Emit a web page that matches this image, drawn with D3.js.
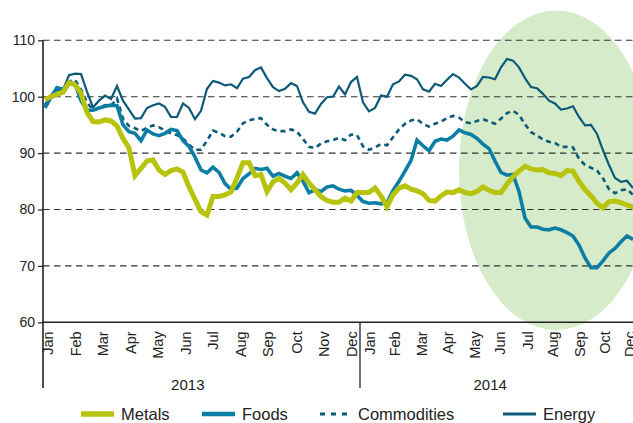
<!DOCTYPE html>
<html>
<head>
<meta charset="utf-8">
<script src="https://cdn.jsdelivr.net/npm/d3@7"></script>
<style>
  html, body { margin: 0; padding: 0; background: #fff; }
  svg { display: block; font-family: "Liberation Sans", Arial, sans-serif; }
</style>
</head>
<body>
<svg id="chart" width="633" height="423"></svg>
<script>
// ---- Data (weekly index values, Jan 2013 = 100) ----
const metals = [99.5,100.0,100.4,100.8,102.5,102.1,100.6,97.2,95.6,95.5,95.9,95.7,94.8,92.6,90.9,86.0,87.3,88.6,88.8,87.0,86.2,86.9,87.2,86.6,84.0,81.8,79.6,79.0,82.3,82.3,82.6,83.1,85.6,88.3,88.3,86.0,86.2,83.2,84.9,85.5,84.7,83.5,84.7,86.2,84.7,83.5,82.3,81.6,81.3,81.3,82.0,81.5,83.0,83.0,83.0,83.8,82.4,80.5,82.6,83.8,84.2,83.6,83.3,82.8,81.6,81.5,82.4,83.1,83.0,83.5,83.0,82.8,83.2,84.0,83.4,83.0,83.0,84.5,85.8,86.8,87.7,87.2,87.0,87.1,86.5,86.4,86.0,86.9,86.8,85.0,83.5,82.4,81.1,80.3,81.4,81.5,81.2,80.8,80.4];
const foods = [98.0,99.9,101.6,101.3,102.5,102.3,99.3,97.6,97.6,98.0,98.3,98.5,98.4,95.0,93.8,93.5,92.2,94.1,93.4,93.1,93.5,94.2,94.0,92.2,91.2,89.3,87.0,86.5,87.5,86.6,84.6,83.6,83.8,85.5,86.3,87.3,87.1,87.3,85.9,86.4,85.9,85.5,86.5,85.0,83.0,83.5,83.2,84.0,84.2,83.6,83.3,83.4,82.5,81.4,81.1,81.2,81.0,81.2,83.4,85.0,86.8,88.7,92.3,91.3,90.4,92.1,92.5,92.3,93.0,94.1,93.6,93.3,92.6,91.6,90.8,88.6,86.6,86.1,86.2,83.2,78.5,76.9,76.9,76.5,76.4,76.7,76.4,75.9,75.3,73.7,71.4,69.7,69.7,70.9,72.3,73.1,74.3,75.3,74.7];
const commodities = [98.5,100.2,101.5,101.1,102.7,103.0,101.3,99.0,97.6,98.0,98.5,98.4,99.7,96.1,94.8,94.4,93.9,94.5,94.9,94.6,94.0,93.5,93.2,92.6,91.5,90.6,90.6,92.2,94.0,93.6,93.0,92.9,93.8,95.3,95.8,96.1,96.2,95.0,94.2,93.9,93.9,94.2,93.8,92.5,91.1,90.9,91.7,92.1,92.3,92.7,92.3,93.3,93.2,91.2,90.6,91.0,91.6,91.4,92.8,94.2,95.2,95.8,96.0,95.2,94.7,95.2,95.6,96.2,96.6,96.3,95.5,95.3,95.7,96.0,95.6,95.2,96.1,97.1,97.5,96.8,95.1,93.7,93.1,92.4,92.0,91.8,91.1,91.1,91.0,89.0,87.9,87.4,86.9,85.5,83.6,82.9,83.4,83.6,82.6];
const energy = [98.6,100.0,101.2,101.2,103.8,104.1,104.0,100.9,98.1,99.3,100.2,99.6,101.9,99.3,97.7,96.1,96.2,98.0,98.5,98.8,98.2,96.4,96.4,98.8,98.0,96.0,97.5,101.4,102.8,102.5,102.0,102.2,101.5,103.2,103.5,104.7,105.2,103.3,101.7,101.0,101.4,102.4,101.9,99.0,97.3,97.0,98.7,99.9,100.0,101.8,100.4,102.6,103.5,99.0,97.4,98.0,100.2,100.0,102.2,102.7,103.9,103.7,103.1,101.3,100.9,102.3,101.9,103.0,104.0,103.4,102.3,101.3,101.9,103.5,103.4,103.1,105.2,106.7,106.4,105.2,103.3,101.7,101.5,100.5,99.3,98.8,97.7,97.9,98.3,96.4,94.9,95.0,93.4,90.5,87.9,85.6,84.9,85.1,83.8];

// ---- Tick labels (positions in week index) ----
const monthLabels = ["Jan","Feb","Mar","Apr","May","Jun","Jul","Aug","Sep","Oct","Nov","Dec",
                     "Jan","Feb","Mar","Apr","May","Jun","Jul","Aug","Sep","Oct","Dec"];
const monthWeeks  = [0.5,5.17,9.67,14.33,18.83,23.5,28,32.67,37.17,42,46.5,51.17,
                     54.17,58.33,62.83,67.17,71.67,75.83,80.5,84.67,89.17,93.33,97.5];
const yearLabels = ["2013","2014"];
const yearWeeks  = [23.8, 74.2];
const yearDivider = 52.5;
const yTicks = [60,70,80,90,100,110];
// shaded oval: centre week, half-width in weeks, value range covered
const highlight = {centerWeek: 85.2, halfWeeks: 16.2, low: 58.6, high: 115.3};

const seriesNames  = ["Metals","Foods","Commodities","Energy"];
const seriesColors = ["#b7c30c","#0b7ea6","#0c5a79","#0c5a79"];
const seriesWidths = [5, 3.6, 2.6, 2.2];
const seriesDash   = [null, null, "5,4", null];
const seriesData   = [metals, foods, commodities, energy];

// ---- Layout ----
const svg = d3.select("#chart");
const x = d3.scaleLinear().domain([0, 98]).range([45, 633]);
const y = d3.scaleLinear().domain([60, 110]).range([322.3, 40.3]);
const axisX = 43, axisBottom = 388;

// Highlight oval
svg.append("ellipse")
  .attr("cx", x(highlight.centerWeek))
  .attr("cy", (y(highlight.low) + y(highlight.high)) / 2)
  .attr("rx", x(highlight.centerWeek + highlight.halfWeeks) - x(highlight.centerWeek))
  .attr("ry", (y(highlight.low) - y(highlight.high)) / 2)
  .attr("fill", "#d6ebc9");

// Gridlines
svg.append("g").selectAll("line")
  .data(yTicks.filter(d => d > 60))
  .join("line")
  .attr("x1", axisX).attr("x2", 633)
  .attr("y1", d => y(d)).attr("y2", d => y(d))
  .attr("stroke", "#333").attr("stroke-width", 1.1)
  .attr("stroke-dasharray", "6.5,4.5");

// Y axis
const yAxis = d3.axisLeft(y).tickValues(yTicks).tickSize(5).tickPadding(3).tickFormat(d3.format("d"));
const yg = svg.append("g").attr("transform", `translate(${axisX},0)`).call(yAxis);
yg.select(".domain").remove();
yg.selectAll(".tick line").attr("stroke", "#222").attr("stroke-width", 1.2);
yg.selectAll(".tick text").attr("font-size", 14).attr("fill", "#222")
  .attr("font-family", "'Liberation Sans', Arial, sans-serif");

// Lines
const line = d3.line().x((d, i) => x(i)).y(d => y(d));
const order = [3, 2, 1, 0];
order.forEach(k => {
  svg.append("path")
    .datum(seriesData[k])
    .attr("d", line)
    .attr("fill", "none")
    .attr("stroke", seriesColors[k])
    .attr("stroke-width", seriesWidths[k])
    .attr("stroke-linejoin", "miter")
    .attr("stroke-dasharray", seriesDash[k]);
});

// Axis lines
svg.append("line").attr("x1", axisX).attr("x2", 633).attr("y1", y(60)).attr("y2", y(60))
  .attr("stroke", "#222").attr("stroke-width", 1.6);
svg.append("line").attr("x1", axisX).attr("x2", axisX).attr("y1", y(110)).attr("y2", axisBottom)
  .attr("stroke", "#222").attr("stroke-width", 1.6);
svg.append("line").attr("x1", x(yearDivider)).attr("x2", x(yearDivider)).attr("y1", y(60)).attr("y2", axisBottom)
  .attr("stroke", "#222").attr("stroke-width", 1.3);

// Month labels
svg.append("g").selectAll("text")
  .data(monthLabels)
  .join("text")
  .attr("transform", (d, i) => `translate(${x(monthWeeks[i])},${y(60) + 9}) rotate(-90)`)
  .attr("text-anchor", "end")
  .attr("dy", "0.36em")
  .attr("font-size", 14.5)
  .attr("fill", "#222")
  .text(d => d);

// Year labels
svg.append("g").selectAll("text")
  .data(yearLabels)
  .join("text")
  .attr("x", (d, i) => x(yearWeeks[i]))
  .attr("y", 390)
  .attr("text-anchor", "middle")
  .attr("font-size", 15)
  .attr("fill", "#222")
  .text(d => d);

// Legend
const legendX = [81, 202, 320, 503];
const lg = svg.append("g");
seriesNames.forEach((name, k) => {
  const g = lg.append("g").attr("transform", `translate(${legendX[k]},414)`);
  g.append("line").attr("x1", 0).attr("x2", k === 2 ? 28 : 33).attr("y1", 0).attr("y2", 0)
    .attr("stroke", seriesColors[k])
    .attr("stroke-width", k === 0 ? 5.5 : (k === 1 ? 4.5 : 3))
    .attr("stroke-dasharray", k === 2 ? "5,6" : null);
  g.append("text").attr("x", k === 2 ? 38 : 40).attr("y", 0).attr("dy", "0.34em")
    .attr("font-size", 16.5).attr("fill", "#222").text(name);
});
</script>
</body>
</html>
